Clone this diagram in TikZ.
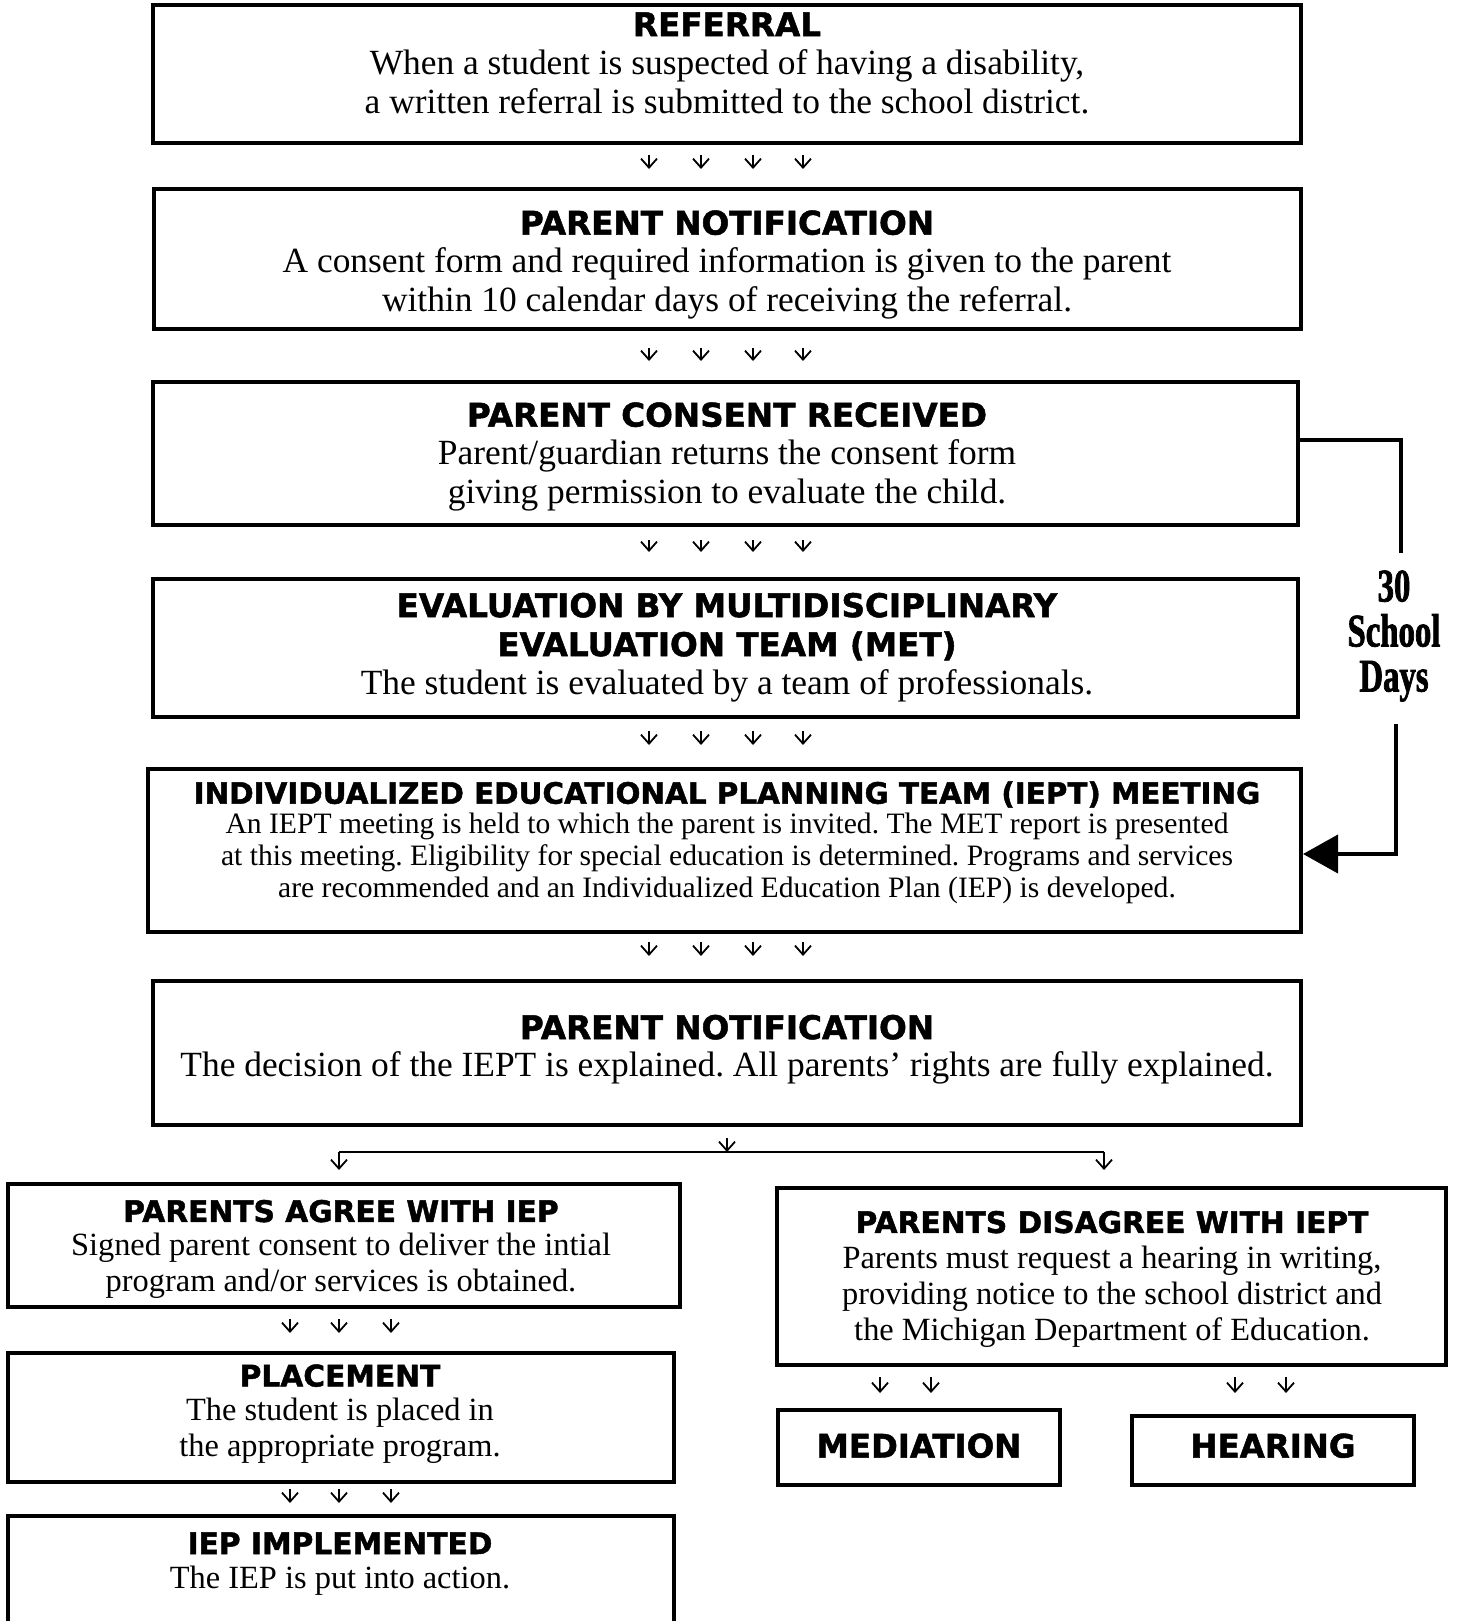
\documentclass[tikz,border=0pt]{standalone}
\usepackage{fontspec}
\setmainfont{Liberation Serif}
\newfontfamily\headfont{DejaVu Sans}[BoldFeatures={FakeBold=1.5}]
\newfontfamily\daysfont{Liberation Serif}[UprightFont={* Bold},FakeStretch=0.7,FakeBold=1.5]
\usetikzlibrary{arrows.meta}
\frenchspacing

\tikzset{
	box/.style={draw, line width=2pt, inner sep=0pt},
	head/.style={anchor=north, inner sep=0pt, align=center, font=\headfont\bfseries\fontsize{16.3pt}{19.5pt}\selectfont},
	lowhead/.style={head, font=\headfont\bfseries\fontsize{14.85pt}{18pt}\selectfont},
	body/.style={anchor=north, inner sep=0pt, align=center, font=\fontsize{17.7pt}{19.5pt}\selectfont},
	lowbody/.style={body, font=\fontsize{16.2pt}{18pt}\selectfont},
	darr/.style={line width=0.9pt, -{Straight Barb[length=4.5pt,width=8pt]}},
	longline/.style={line width=2pt},
	days/.style={inner sep=0pt, align=center, font=\daysfont\fontsize{23.4pt}{22.5pt}\selectfont}
}

\begin{document}
\begin{tikzpicture}[x=0.5pt,y=-0.5pt]
	\useasboundingbox (0,0) rectangle (1456,1621);

	\node[box, minimum width=574pt, minimum height=69pt] (ref) at (727,74) {};
	\node[head] (refH) at (727,12) {REFERRAL};
	\node[body] (refB) at (727,49) {When a student is suspected of having a disability,\\
		a written referral is submitted to the school district.};

	\node[box, minimum width=573.5pt, minimum height=70pt] (notif) at (727,259) {};
	\node[head] (notifH) at (727,210) {PARENT NOTIFICATION};
	\node[body] (notifB) at (727,247) {A consent form and required information is given to the parent\\
		within 10 calendar days of receiving the referral.};

	\node[box, minimum width=572.5pt, minimum height=71.5pt] (consent) at (725.5,453.5) {};
	\node[head] (consentH) at (727,402) {PARENT CONSENT RECEIVED};
	\node[body] (consentB) at (727,439) {Parent/guardian returns the consent form\\
		giving permission to evaluate the child.};

	\node[box, minimum width=572.5pt, minimum height=69pt] (eval) at (725.5,648) {};
	\node[head] (evalH) at (727,592.5) {EVALUATION BY MULTIDISCIPLINARY\\ EVALUATION TEAM (MET)};
	\node[body] (evalB) at (727,669.5) {The student is evaluated by a team of professionals.};

	\node[box, minimum width=576.5pt, minimum height=81.5pt] (iept) at (724.5,850.5) {};
	\node[head, font=\headfont\bfseries\fontsize{14.7pt}{16pt}\selectfont] (ieptH) at (727,781)
		{INDIVIDUALIZED EDUCATIONAL PLANNING TEAM (IEPT) MEETING};
	\node[body, font=\fontsize{14.8pt}{16pt}\selectfont] (ieptB) at (727,813)
		{An IEPT meeting is held to which the parent is invited. The MET report is presented\\
		at this meeting. Eligibility for special education is determined. Programs and services\\
		are recommended and an Individualized Education Plan (IEP) is developed.};

	\node[box, minimum width=574pt, minimum height=72pt] (decision) at (727,1053) {};
	\node[head] (decisionH) at (727,1014.5) {PARENT NOTIFICATION};
	\node[body] (decisionB) at (727,1051) {The decision of the IEPT is explained. All parents’ rights are fully explained.};

	\node[box, minimum width=336pt, minimum height=61.5pt] (agree) at (344,1245.5) {};
	\node[lowhead] (agreeH) at (341,1199.5) {PARENTS AGREE WITH IEP};
	\node[lowbody] (agreeB) at (341,1233) {Signed parent consent to deliver the intial\\
		program and/or services is obtained.};

	\node[box, minimum width=333pt, minimum height=64.5pt] (place) at (341,1417.5) {};
	\node[lowhead] (placeH) at (340,1364) {PLACEMENT};
	\node[lowbody] (placeB) at (340,1397.5) {The student is placed in\\ the appropriate program.};

	\node[box, minimum width=333pt, minimum height=94pt] (impl) at (341,1610) {};
	\node[lowhead] (implH) at (340,1532) {IEP IMPLEMENTED};
	\node[lowbody] (implB) at (340,1566) {The IEP is put into action.};

	\node[box, minimum width=334.5pt, minimum height=88.5pt] (disagree) at (1111.5,1276.5) {};
	\node[lowhead] (disagreeH) at (1112,1210.5) {PARENTS DISAGREE WITH IEPT};
	\node[lowbody] (disagreeB) at (1112,1245.5) {Parents must request a hearing in writing,\\
		providing notice to the school district and\\ the Michigan Department of Education.};

	\node[box, minimum width=141pt, minimum height=37.5pt, text depth=2pt, font=\headfont\bfseries\fontsize{16.2pt}{18pt}\selectfont] (mediation) at (919,1447.5) {MEDIATION};
	\node[box, minimum width=141pt, minimum height=34.5pt, text depth=5pt, font=\headfont\bfseries\fontsize{16.2pt}{18pt}\selectfont] (hearing) at (1273,1450.5) {HEARING};

	\foreach \x in {649,701,753,803} {
		\draw[darr, shorten <=5pt, shorten >=9pt] (\x,0 |- ref.south) -- (\x,0 |- notif.north);
		\draw[darr, shorten <=8.5pt, shorten >=9.5pt] (\x,0 |- notif.south) -- (\x,0 |- consent.north);
		\draw[darr, shorten <=6.5pt, shorten >=12.5pt] (\x,0 |- consent.south) -- (\x,0 |- eval.north);
		\draw[darr, shorten <=6pt, shorten >=11pt] (\x,0 |- eval.south) -- (\x,0 |- iept.north);
		\draw[darr, shorten <=4pt, shorten >=11.5pt] (\x,0 |- iept.south) -- (\x,0 |- decision.north);
	}

	\coordinate (split) at (727,1152);
	\coordinate (splitL) at (339,1152);
	\coordinate (splitR) at (1104,1152);
	\draw[darr, shorten <=5.5pt] (decision.south) -- (split);
	\draw[line width=0.75pt] (splitL) -- (splitR);
	\draw[darr, shorten >=6pt] (splitL) -- (splitL |- agree.north);
	\draw[darr, shorten >=8pt] (splitR) -- (splitR |- disagree.north);

	\foreach \x in {290,339,391} {
		\draw[darr, shorten <=5pt, shorten >=9pt] (\x,0 |- agree.south) -- (\x,0 |- place.north);
		\draw[darr, shorten <=2.5pt, shorten >=5.5pt] (\x,0 |- place.south) -- (\x,0 |- impl.north);
	}
	\foreach \x in {880,931}
		\draw[darr, shorten <=5pt, shorten >=7.5pt] (\x,0 |- disagree.south) -- (\x,0 |- mediation.north);
	\foreach \x in {1235,1286}
		\draw[darr, shorten <=5pt, shorten >=10.5pt] (\x,0 |- disagree.south) -- (\x,0 |- hearing.north);

	\coordinate (daysTop) at (1401,553);
	\node[days] (days) at (1394,636) {30\\School\\Days};
	\coordinate (daysBot) at (1396,724);
	\draw[longline] ([yshift=6.75pt]consent.east) -| (daysTop);
	\draw[longline, -{Triangle[length=17.5pt,width=19pt]}] (daysBot) |- ([yshift=-1.75pt]iept.east);
\end{tikzpicture}
\end{document}
